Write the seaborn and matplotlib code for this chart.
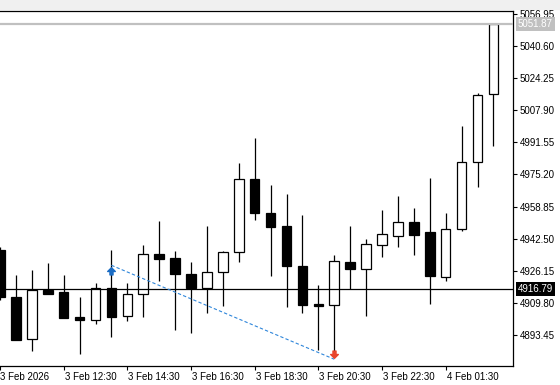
#!/usr/bin/env python3

import matplotlib
matplotlib.use("Agg")
import numpy as np
import pandas as pd
import seaborn as sns
from matplotlib import pyplot as plt
from matplotlib.path import Path
from matplotlib.transforms import ScaledTranslation

# M30 candles, 3 Feb 10:30 -> 4 Feb 03:00 (00:00-01:00 break)
times = ["10:30", "11:00", "11:30", "12:00", "12:30", "13:00", "13:30", "14:00",
         "14:30", "15:00", "15:30", "16:00", "16:30", "17:00", "17:30", "18:00",
         "18:30", "19:00", "19:30", "20:00", "20:30", "21:00", "21:30", "22:00",
         "22:30", "23:00", "23:30", "01:00", "01:30", "02:00", "02:30", "03:00"]
opens = [4936.7, 4912.7, 4891.2, 4916.3, 4915.3, 4902.5, 4901.2, 4917.2,
         4902.9, 4914.1, 4934.7, 4932.6, 4924.5, 4917.3, 4925.3, 4935.5,
         4972.9, 4955.6, 4948.9, 4928.6, 4909.2, 4908.5, 4930.6, 4927.2,
         4939.4, 4944.0, 4950.8, 4945.7, 4922.8, 4947.3, 4981.4, 5016.1]
highs = [4938.0, 4924.1, 4926.5, 4930.2, 4924.1, 4912.7, 4919.9, 4936.7,
         4919.9, 4939.3, 4951.5, 4936.2, 4930.4, 4948.9, 4936.2, 4981.1,
         4994.0, 4969.8, 4965.3, 4954.5, 4918.9, 4934.2, 4948.9, 4942.3,
         4957.1, 4964.2, 4958.0, 4973.4, 4955.4, 4999.9, 5016.7, 5052.3]
lows = [4911.0, 4890.8, 4885.4, 4914.3, 4902.0, 4883.8, 4899.1, 4892.5,
        4900.7, 4902.7, 4921.1, 4896.1, 4894.5, 4904.7, 4908.3, 4930.7,
        4952.0, 4923.6, 4907.8, 4904.7, 4885.7, 4884.3, 4916.7, 4903.2,
        4933.1, 4938.2, 4934.2, 4909.3, 4921.1, 4946.5, 4969.0, 4989.9]
closes = [4912.5, 4891.0, 4916.2, 4914.4, 4902.2, 4901.2, 4917.2, 4902.7,
          4914.1, 4934.5, 4932.3, 4924.6, 4917.3, 4925.3, 4935.5, 4972.8,
          4955.4, 4948.6, 4928.7, 4908.8, 4908.3, 4931.1, 4927.2, 4939.6,
          4944.7, 4950.8, 4944.5, 4923.6, 4947.3, 4981.4, 5015.6, 5051.87]

tick_idx = [0, 4, 8, 12, 16, 20, 24, 28]
tick_labels = ["3 Feb 2026", "3 Feb 12:30", "3 Feb 14:30", "3 Feb 16:30",
               "3 Feb 18:30", "3 Feb 20:30", "3 Feb 22:30", "4 Feb 01:30"]
price_ticks = [4893.45, 4909.80, 4926.15, 4942.50, 4958.85, 4975.20,
               4991.55, 5007.90, 5024.25, 5040.60, 5056.95]

ask_price = 5051.87
hline_price = 4916.79

trade_idx = [7, 21]
trade_price = [4928.9, 4881.0]
buy_arrow = [7, 4926.1]
sell_arrow = [21, 4883.8]

W, H = 560, 385


def arrow_path(up=True):
    s = 1 if up else -1
    verts = [(0, s), (1, 0), (0.4, 0), (0.4, -0.9 * s), (-0.4, -0.9 * s),
             (-0.4, 0), (-1, 0), (0, s)]
    return Path(verts, closed=True)


def main():
    df = pd.DataFrame({"time": times, "open": opens, "high": highs,
                       "low": lows, "close": closes})
    df["i"] = np.arange(len(df))
    bull = df["close"] >= df["open"]

    sns.set_style("white")
    plt.rcParams["font.family"] = ["Liberation Sans", "DejaVu Sans"]

    fig = plt.figure(figsize=(W / 100, H / 100), dpi=100)
    fig.add_artist(plt.Rectangle((0, 1 - 9 / H), 1, 9 / H, transform=fig.transFigure,
                                 color="#f0f0f0", zorder=0))
    ax = fig.add_axes([0, 19 / H, 512.7 / W, 355 / H])

    ax.vlines(df["i"], df["low"], df["high"], color="black", lw=0.9, zorder=2)
    ax.bar(df["i"], (df["close"] - df["open"]).abs(),
           bottom=df[["open", "close"]].min(axis=1), width=0.6,
           color=np.where(bull, "white", "black"), edgecolor="black",
           linewidth=0.9, zorder=3)

    ax.axhline(ask_price, color="#c0c0c0", lw=1.6, zorder=4)
    ax.axhline(hline_price, color="black", lw=0.9, zorder=4)

    sns.lineplot(x=trade_idx, y=trade_price, ax=ax, color="#2f86da", lw=0.8,
                 linestyle=(0, (3, 2)), zorder=5)
    ax.plot(*buy_arrow, marker=arrow_path(True), markersize=5.5, color="#1a6cc4",
            linestyle="none", zorder=6)
    ax.plot(*sell_arrow, marker=arrow_path(False), markersize=5.5, color="#e8452c",
            linestyle="none", zorder=6)

    ax.set_xlim(0.17, 32.21)
    ax.set_ylim(4877.55, 5058.55)

    ax.spines["left"].set_visible(False)
    for side in ["top", "right", "bottom"]:
        ax.spines[side].set_color("black")
        ax.spines[side].set_linewidth(0.9)

    ax.yaxis.tick_right()
    ax.set_yticks(price_ticks, [f"{p:.2f}" for p in price_ticks])
    ax.tick_params(axis="y", direction="out", length=3, width=0.8, pad=2,
                   labelsize=7, colors="black", left=False, right=True)

    ax.set_xticks(tick_idx, tick_labels, ha="left")
    ax.tick_params(axis="x", direction="out", length=3, width=0.8, pad=1,
                   labelsize=7, colors="black", bottom=True)
    for k, lbl in enumerate(ax.get_xticklabels()):
        dx = 0.5 if k == 0 else 1.0  # px, labels start just right of the tick
        lbl.set_transform(lbl.get_transform() + ScaledTranslation(dx / 100, 0, fig.dpi_scale_trans))

    for price, bg in [(ask_price, "#c0c0c0"), (hline_price, "black")]:
        ax.annotate(f"{price:.2f}", xy=(1, price), xycoords=("axes fraction", "data"),
                    xytext=(5, 0), textcoords="offset pixels", ha="left", va="center",
                    fontsize=7, color="white", annotation_clip=False,
                    bbox=dict(boxstyle="square,pad=0.2", fc=bg, ec="none"))

    ax.set_xlabel("")
    ax.set_ylabel("")
    fig.savefig("out.png", dpi=100)
    plt.close(fig)


if __name__ == '__main__':
    main()
